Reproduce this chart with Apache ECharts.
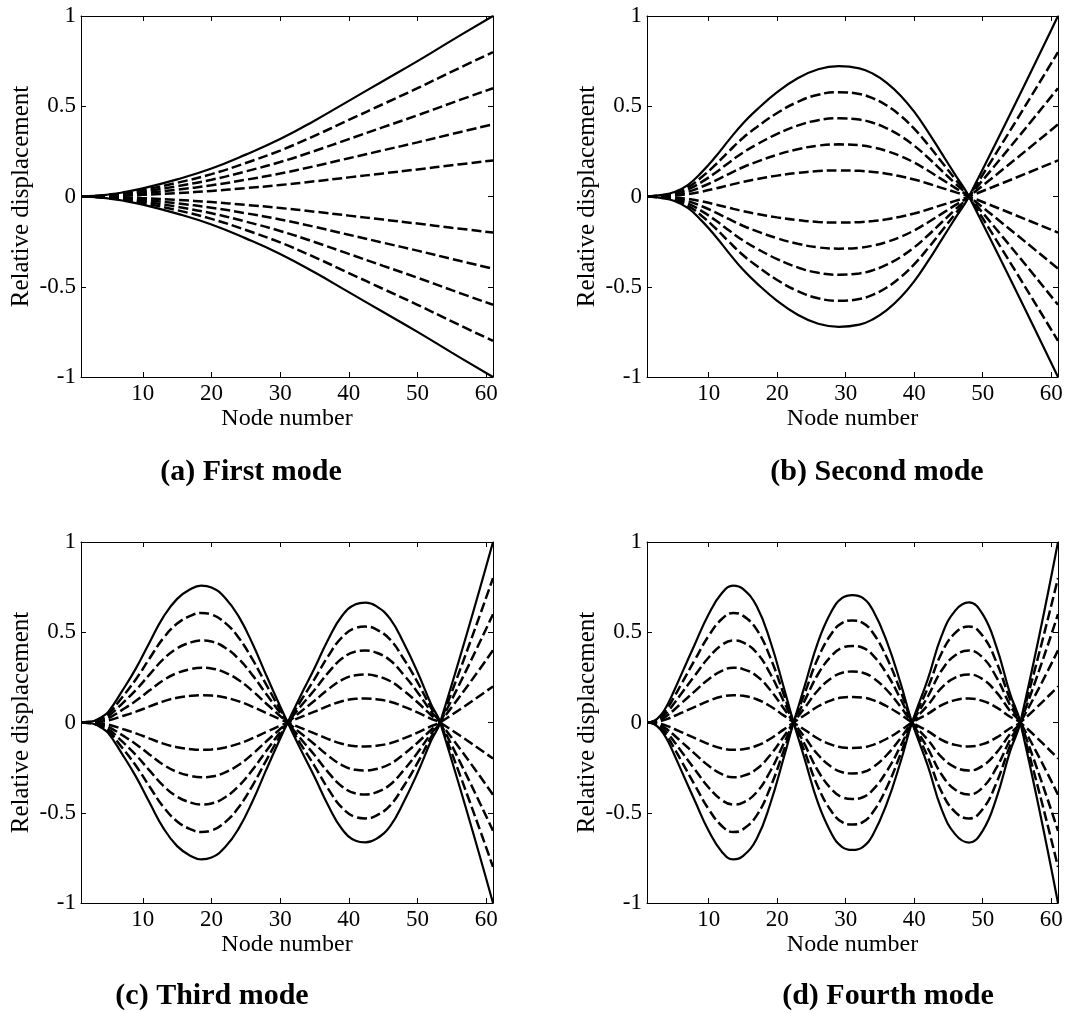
<!DOCTYPE html>
<html>
<head>
<meta charset="utf-8">
<title>Mode shapes</title>
<script src="https://cdn.jsdelivr.net/npm/echarts@6/dist/echarts.min.js"></script>
<style>
html, body { margin: 0; padding: 0; background: #fff; }
#chart { width: 1091px; height: 1013px; }
</style>
</head>
<body>
<div id="chart"></div>
<script>
// base mode shapes (solid curve)
var mode1_nodes = [1, 3, 5, 7, 10, 15, 20, 25, 30, 35, 40, 45, 50, 55, 61];
var mode1_vals  = [0, 0.003, 0.011, 0.022, 0.045, 0.095, 0.155, 0.232, 0.318, 0.42, 0.53, 0.64, 0.75, 0.865, 1];

var mode2_nodes = [1, 3, 5, 7, 9, 11, 13, 15, 17, 20, 23, 26, 29, 32, 34, 36, 38, 40, 42, 44, 46, 48, 61];
var mode2_vals  = [0, 0.008, 0.025, 0.065, 0.135, 0.22, 0.315, 0.405, 0.48, 0.578, 0.655, 0.705, 0.722, 0.71, 0.68, 0.63, 0.56, 0.47, 0.36, 0.24, 0.12, 0, -1];

var mode3_nodes = [1, 2, 3, 4, 5, 7, 9, 11, 13, 15, 17, 18.5, 20, 22, 24, 26, 28, 30, 31.1, 33, 35, 37, 39, 41, 42.4, 44, 46, 48, 50, 52, 53.3, 61];
var mode3_vals  = [0, 0.003, 0.01, 0.03, 0.06, 0.175, 0.3, 0.445, 0.585, 0.685, 0.74, 0.758, 0.748, 0.69, 0.585, 0.435, 0.26, 0.09, 0, -0.15, -0.3, -0.46, -0.59, -0.655, -0.664, -0.645, -0.575, -0.44, -0.28, -0.1, 0, 1];

var mode4_nodes = [1, 2, 3, 4, 5, 6, 8, 10, 12, 13.6, 15, 17, 19, 21, 22.4, 24, 26, 28, 29.5, 31, 32.5, 34, 36, 38, 39.7, 42, 44, 46, 48, 50, 52, 54, 55.5, 61];
var mode4_vals  = [0, 0.008, 0.04, 0.1, 0.18, 0.265, 0.435, 0.6, 0.72, 0.758, 0.74, 0.645, 0.45, 0.19, 0, -0.2, -0.45, -0.62, -0.69, -0.706, -0.69, -0.62, -0.45, -0.22, 0, 0.24, 0.48, 0.62, 0.665, 0.6, 0.42, 0.16, 0, -1];

// amplitude levels of the family of curves (±1 solid, others dashed)
var scale_levels = [1, 0.8, 0.6, 0.4, 0.2, -0.2, -0.4, -0.6, -0.8, -1];

var x_ticks = [10, 20, 30, 40, 50, 60];
var panel_titles = ['(a) First mode', '(b) Second mode', '(c) Third mode', '(d) Fourth mode'];

var all_nodes = [mode1_nodes, mode2_nodes, mode3_nodes, mode4_nodes];
var all_vals = [mode1_vals, mode2_vals, mode3_vals, mode4_vals];

// layout of the four panels
var grid_boxes = [
    { left: 81, top: 16, width: 412, height: 361 },
    { left: 647, top: 16, width: 411, height: 361 },
    { left: 81, top: 542, width: 412, height: 361 },
    { left: 647, top: 542, width: 411, height: 361 }
];
var title_pos = [[251, 472], [877, 472], [212, 996], [888, 996]];

var FONT = 'Liberation Serif';
var axis_line = { show: true, onZero: false, lineStyle: { color: '#000', width: 1 } };
var tick_style = { inside: true, length: 5, lineStyle: { color: '#000', width: 1 } };

var grids = [], xAxes = [], yAxes = [], series = [], graphics = [];

for (var p = 0; p < 4; p++) {
    grids.push(grid_boxes[p]);

    xAxes.push({        // bottom axis with labels
        gridIndex: p, type: 'value', position: 'bottom', min: 1, max: 61,
        axisLine: axis_line,
        axisTick: Object.assign({ customValues: x_ticks }, tick_style),
        axisLabel: { customValues: x_ticks, color: '#000', fontFamily: FONT, fontSize: 23, margin: 5 },
        splitLine: { show: false },
        name: 'Node number', nameLocation: 'middle', nameGap: 30,
        nameTextStyle: { color: '#000', fontFamily: FONT, fontSize: 24 }
    });
    xAxes.push({        // top mirror axis
        gridIndex: p, type: 'value', position: 'top', min: 1, max: 61,
        axisLine: axis_line,
        axisTick: Object.assign({ customValues: x_ticks }, tick_style),
        axisLabel: { show: false },
        splitLine: { show: false }
    });

    yAxes.push({        // left axis with labels
        gridIndex: p, type: 'value', position: 'left', min: -1, max: 1, interval: 0.5,
        axisLine: axis_line,
        axisTick: tick_style,
        axisLabel: { color: '#000', fontFamily: FONT, fontSize: 23, margin: 5 },
        splitLine: { show: false },
        name: 'Relative displacement', nameLocation: 'middle', nameGap: 47,
        nameTextStyle: { color: '#000', fontFamily: FONT, fontSize: 25 }
    });
    yAxes.push({        // right mirror axis
        gridIndex: p, type: 'value', position: 'right', min: -1, max: 1, interval: 0.5,
        axisLine: axis_line,
        axisTick: tick_style,
        axisLabel: { show: false },
        splitLine: { show: false }
    });

    for (var s = 0; s < scale_levels.length; s++) {
        var k = scale_levels[s];
        var pts = [];
        for (var j = 0; j < all_nodes[p].length; j++) {
            pts.push([all_nodes[p][j], all_vals[p][j] * k]);
        }
        var is_solid = Math.abs(k) === 1;
        series.push({
            type: 'line',
            xAxisIndex: p * 2,
            yAxisIndex: p * 2,
            data: pts,
            symbol: 'none',
            smooth: 0.45,
            silent: true,
            z: is_solid ? 3 : 2,
            lineStyle: {
                color: '#000',
                width: is_solid ? 2.2 : 2.5,
                type: is_solid ? 'solid' : [10, 4]
            }
        });
    }

    graphics.push({
        type: 'text',
        x: title_pos[p][0],
        y: title_pos[p][1],
        style: {
            text: panel_titles[p],
            fill: '#000',
            font: 'bold 30px "Liberation Serif"',
            align: 'center',
            verticalAlign: 'middle'
        }
    });
}

var chart = echarts.init(document.getElementById('chart'));
chart.setOption({
    animation: false,
    backgroundColor: '#fff',
    grid: grids,
    xAxis: xAxes,
    yAxis: yAxes,
    series: series,
    graphic: graphics
});
</script>
</body>
</html>
